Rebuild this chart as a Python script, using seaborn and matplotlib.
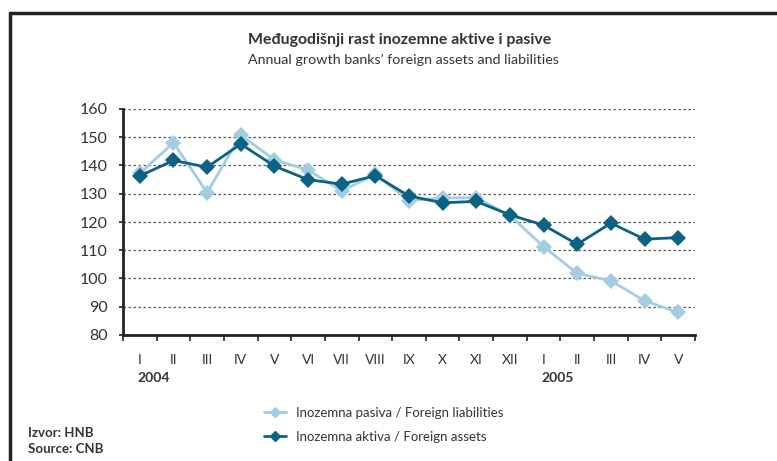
import matplotlib.pyplot as plt
import matplotlib.lines as mlines
import pandas as pd
import seaborn as sns

months = ["I", "II", "III", "IV", "V", "VI", "VII", "VIII", "IX", "X", "XI", "XII",
          "I", "II", "III", "IV", "V"]
liabilities = [137.2, 148.1, 130.4, 150.8, 142.0, 138.4, 131.0, 136.9, 127.6, 128.5,
               128.6, 122.3, 111.3, 101.8, 99.2, 92.1, 88.0]
assets = [136.3, 141.8, 139.4, 147.6, 139.8, 135.0, 133.4, 136.4, 129.2, 126.8,
          127.3, 122.5, 118.9, 112.1, 119.6, 113.9, 114.5]
years = ["2004", "2005"]
year_pos = [0, 12]

lab_liab = "Inozemna pasiva / Foreign liabilities"
lab_assets = "Inozemna aktiva / Foreign assets"
c_liab = "#a3cde2"
c_assets = "#0b6284"
txt = "#333333"

df = pd.DataFrame({
    "pos": list(range(len(months))) * 2,
    "value": liabilities + assets,
    "series": [lab_liab] * len(liabilities) + [lab_assets] * len(assets),
})

sns.set_style("white")
plt.rcParams["font.family"] = ["Lato", "DejaVu Sans"]

fig = plt.figure(figsize=(7.77, 4.61), dpi=100)
ax = fig.add_axes([123 / 777, 1 - 335 / 461, 572 / 777, 226 / 461])

sns.lineplot(data=df, x="pos", y="value", hue="series",
             palette={lab_liab: c_liab, lab_assets: c_assets},
             hue_order=[lab_liab, lab_assets],
             marker="D", markersize=8, markeredgewidth=0, linewidth=2,
             legend=False, ax=ax)

ax.set_xlim(-0.5, len(months) - 0.5)
ax.set_ylim(80, 160)
ax.set_yticks(range(80, 161, 10))
ax.set_xticks([i + 0.5 for i in range(-1, len(months))], minor=False)
ax.set_xticklabels([])
ax.set_xticks(range(len(months)), minor=True)
ax.set_xticklabels(months, minor=True)
ax.tick_params(axis="x", which="major", direction="out", length=4, width=1.2,
               color="#222222", bottom=True)
ax.tick_params(axis="x", which="minor", length=0, pad=14, labelsize=10,
               labelcolor=txt)
ax.tick_params(axis="y", direction="out", length=3, width=1.2, color="#222222",
               left=True, labelsize=11.5, labelcolor=txt, pad=8)
ax.set_xlabel("")
ax.set_ylabel("")

for v in range(90, 161, 10):
    ax.axhline(v, color="#555555", linestyle=(0, (2, 2)), linewidth=0.9, zorder=0)

sns.despine(ax=ax)
for s in ["left", "bottom"]:
    ax.spines[s].set_linewidth(2)
    ax.spines[s].set_color("#222222")

for y, p in zip(years, year_pos):
    ax.text(p - 0.07, -0.19, y, transform=ax.get_xaxis_transform(), ha="left",
            va="center", fontsize=10, fontweight="bold", color=txt)

fig.text(400 / 777, 1 - 40 / 461, "Međugodišnji rast inozemne aktive i pasive",
         ha="center", va="center", fontsize=11.4, fontweight="bold", color=txt)
fig.text(403 / 777, 1 - 60 / 461, "Annual growth banks\u2019 foreign assets and liabilities",
         ha="center", va="center", fontsize=10.3, color=txt)

h1 = mlines.Line2D([], [], color=c_liab, marker="D", markersize=5, linewidth=2)
h2 = mlines.Line2D([], [], color=c_assets, marker="D", markersize=5, linewidth=2)
fig.legend([h1, h2], [lab_liab, lab_assets], loc="center left",
           bbox_to_anchor=(252 / 777, 1 - 425 / 461), frameon=False,
           fontsize=9.5, labelcolor=txt, handlelength=1.7, handletextpad=0.7,
           labelspacing=0.9)

fig.text(28 / 777, 1 - 433 / 461, "Izvor: HNB", fontsize=9.5, fontweight="bold",
         color=txt, va="center")
fig.text(28 / 777, 1 - 449 / 461, "Source: CNB", fontsize=9.5, fontweight="bold",
         color=txt, va="center")

fig.add_artist(mlines.Line2D([10 / 777, 10 / 777], [0, 1 - 13 / 461],
                             color="#222222", linewidth=2.5))
fig.add_artist(mlines.Line2D([10 / 777, 1], [1 - 13 / 461, 1 - 13 / 461],
                             color="#222222", linewidth=2.5))

fig.savefig("out.png", dpi=100)
